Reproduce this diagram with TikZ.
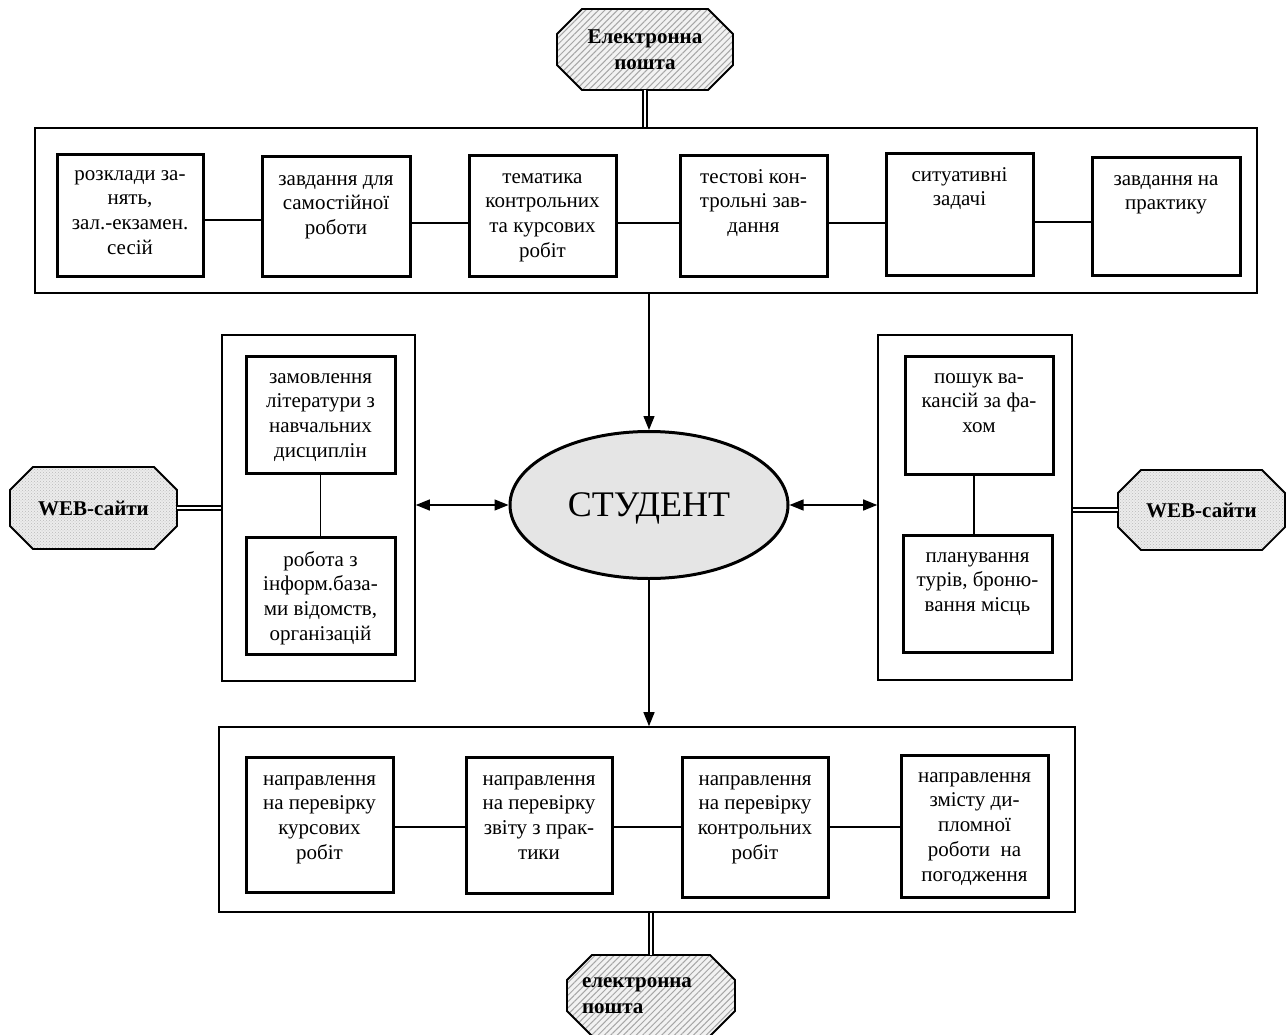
\documentclass[tikz,border=0pt]{standalone}
\usepackage{fontspec}
\setmainfont{Liberation Serif}
\usetikzlibrary{arrows.meta,shapes.geometric,patterns,patterns.meta}
\newcommand\drawocto[6]{%
  \path[#6] (#1-#3+#5,#2-#4) -- (#1+#3-#5,#2-#4) -- (#1+#3,#2-#4+#5) -- (#1+#3,#2+#4-#5)
    -- (#1+#3-#5,#2+#4) -- (#1-#3+#5,#2+#4) -- (#1-#3,#2+#4-#5) -- (#1-#3,#2-#4+#5) -- cycle;}
\begin{document}
\begin{tikzpicture}[x=1pt,y=-1pt,
  outerbox/.style={draw, line width=1.6pt, inner sep=0pt},
  itembox/.style={draw, line width=3pt, inner sep=0pt},
  itemtext/.style={anchor=north, inner sep=0pt, align=center, yshift=-11pt,
    font=\fontsize{21}{24.8}\selectfont},
  octnode/.style={inner sep=0pt, align=center, font=\bfseries\fontsize{21}{26}\selectfont},
  hatchfill/.style={draw, line width=1.8pt, preaction={fill=gray!10},
    pattern={Lines[angle=45,distance=4.5pt,line width=1pt]}, pattern color=gray!70},
  dotfill/.style={draw, line width=1.8pt, preaction={fill=gray!15},
    pattern=crosshatch dots, pattern color=gray!55},
  dbl/.style={double, double distance=2.6pt, line width=1.3pt},
  conn/.style={line width=1.3pt},
  arr/.style={line width=1.3pt, -{Triangle[length=14pt,width=11pt]}},
  darr/.style={line width=1.3pt, {Triangle[length=14pt,width=11pt]}-{Triangle[length=14pt,width=11pt]}}
]
\useasboundingbox (0,0) rectangle (1287,1035);

% ---------- top e-mail octagon ----------
\drawocto{645}{49.5}{88}{40.5}{25}{hatchfill}
\node[octnode, minimum width=176, minimum height=81] (em1) at (645,49.5) {Електронна\\пошта};

% ---------- top box ----------
\node[outerbox, minimum width=1222, minimum height=165] (tb) at (646,210.5) {};
\node[itembox, minimum width=146, minimum height=121] (a1) at (130,215.5) {};
\node[itembox, minimum width=148, minimum height=119] (a2) at (336,216.5) {};
\node[itembox, minimum width=147, minimum height=120] (a3) at (542.5,216) {};
\node[itembox, minimum width=147, minimum height=120] (a4) at (753.5,216) {};
\node[itembox, minimum width=147, minimum height=121] (a5) at (959.5,214.5) {};
\node[itembox, minimum width=148, minimum height=117] (a6) at (1166,216.5) {};
\node[itemtext, yshift=2pt] (a1t) at (a1.north) {\strut розклади за-\\нять,\\зал.-екзамен.\\сесій};
\node[itemtext, yshift=-1pt] (a2t) at (a2.north) {\strut завдання для\\самостійної\\роботи};
\node[itemtext] (a3t) at (a3.north) {\strut тематика\\контрольних\\та курсових\\робіт};
\node[itemtext] (a4t) at (a4.north) {\strut тестові кон-\\трольні зав-\\дання};
\node[itemtext] (a5t) at (a5.north) {\strut ситуативні\\задачі};
\node[itemtext] (a6t) at (a6.north) {\strut завдання на\\практику};
\draw[conn] (a1.east |- 0,220) -- (a2.west |- 0,220);
\draw[conn] (a2.east |- 0,223) -- (a3.west |- 0,223);
\draw[conn] (a3.east |- 0,223) -- (a4.west |- 0,223);
\draw[conn] (a4.east |- 0,223) -- (a5.west |- 0,223);
\draw[conn] (a5.east |- 0,222) -- (a6.west |- 0,222);
\draw[dbl] (em1.south) -- (em1.south |- tb.north);

% ---------- student ----------
\node[ellipse, draw, line width=3pt, fill=gray!20, minimum width=278, minimum height=147,
  inner sep=0pt, text depth=0pt, font=\fontsize{36}{40}\selectfont] (st) at (649,505) {СТУДЕНТ};
\draw[arr] (tb.south -| st.north) -- (st.north);

% ---------- left box ----------
\node[outerbox, minimum width=193, minimum height=346] (lb) at (318.5,508) {};
\node[itembox, minimum width=149, minimum height=117] (l1) at (320.5,414.5) {};
\node[itembox, minimum width=149, minimum height=117] (l2) at (320.5,595.5) {};
\node[itemtext] (l1t) at (l1.north) {\strut замовлення\\літератури з\\навчальних\\дисциплін};
\node[itemtext, yshift=-2pt] (l2t) at (l2.north) {\strut робота з\\інформ.база-\\ми відомств,\\організацій};
\draw[conn] (l1.south) -- (l2.north);
\draw[darr] (lb.east |- st.west) -- (st.west);

% ---------- right box ----------
\node[outerbox, minimum width=194, minimum height=345] (rb) at (975,507.5) {};
\node[itembox, minimum width=148, minimum height=118] (r1) at (979,415) {};
\node[itembox, minimum width=149, minimum height=117] (r2) at (977.5,593.5) {};
\node[itemtext] (r1t) at (r1.north) {\strut пошук ва-\\кансій за фа-\\хом};
\node[itemtext] (r2t) at (r2.north) {\strut планування\\турів, броню-\\вання місць};
\draw[conn] (r1.south -| 974,0) -- (r2.north -| 974,0);
\draw[darr] (st.east) -- (st.east -| rb.west);

% ---------- WEB octagons ----------
\drawocto{93.5}{508}{83.5}{41}{23}{dotfill}
\node[octnode, minimum width=167, minimum height=82] (w1) at (93.5,508) {WEB-сайти};
\drawocto{1201.5}{510}{83.5}{40}{23}{dotfill}
\node[octnode, minimum width=167, minimum height=80] (w2) at (1201.5,510) {WEB-сайти};
\draw[dbl] (w1.east) -- (w1.east -| lb.west);
\draw[dbl] (w2.west) -- (w2.west -| rb.east);

% ---------- bottom box ----------
\node[outerbox, minimum width=856, minimum height=185] (bb) at (647,819.5) {};
\node[itembox, minimum width=147, minimum height=135] (c1) at (319.5,824.5) {};
\node[itembox, minimum width=146, minimum height=136] (c2) at (539,825) {};
\node[itembox, minimum width=146, minimum height=140] (c3) at (755,827) {};
\node[itembox, minimum width=147, minimum height=142] (c4) at (974.5,826) {};
\node[itemtext, yshift=-1pt] (c1t) at (c1.north) {\strut направлення\\на перевірку\\курсових\\робіт};
\node[itemtext, yshift=-1pt] (c2t) at (c2.north) {\strut направлення\\на перевірку\\звіту з прак-\\тики};
\node[itemtext, yshift=-1pt] (c3t) at (c3.north) {\strut направлення\\на перевірку\\контрольних\\робіт};
\node[itemtext] (c4t) at (c4.north) {\strut направлення\\змісту ди-\\пломної\\роботи\ \ на\\погодження};
\draw[conn] (c1.east |- 0,827) -- (c2.west |- 0,827);
\draw[conn] (c2.east |- 0,827) -- (c3.west |- 0,827);
\draw[conn] (c3.east |- 0,827) -- (c4.west |- 0,827);
\draw[arr] (st.south) -- (st.south |- bb.north);

% ---------- bottom e-mail octagon ----------
\drawocto{651}{995.5}{84}{40.5}{25}{hatchfill}
\node[octnode, minimum width=168, minimum height=81, text width=138, align=left] (em2) at (651,995.5) {електронна\\пошта};
\draw[dbl] (bb.south -| em2.north) -- (em2.north);
\end{tikzpicture}
\end{document}
